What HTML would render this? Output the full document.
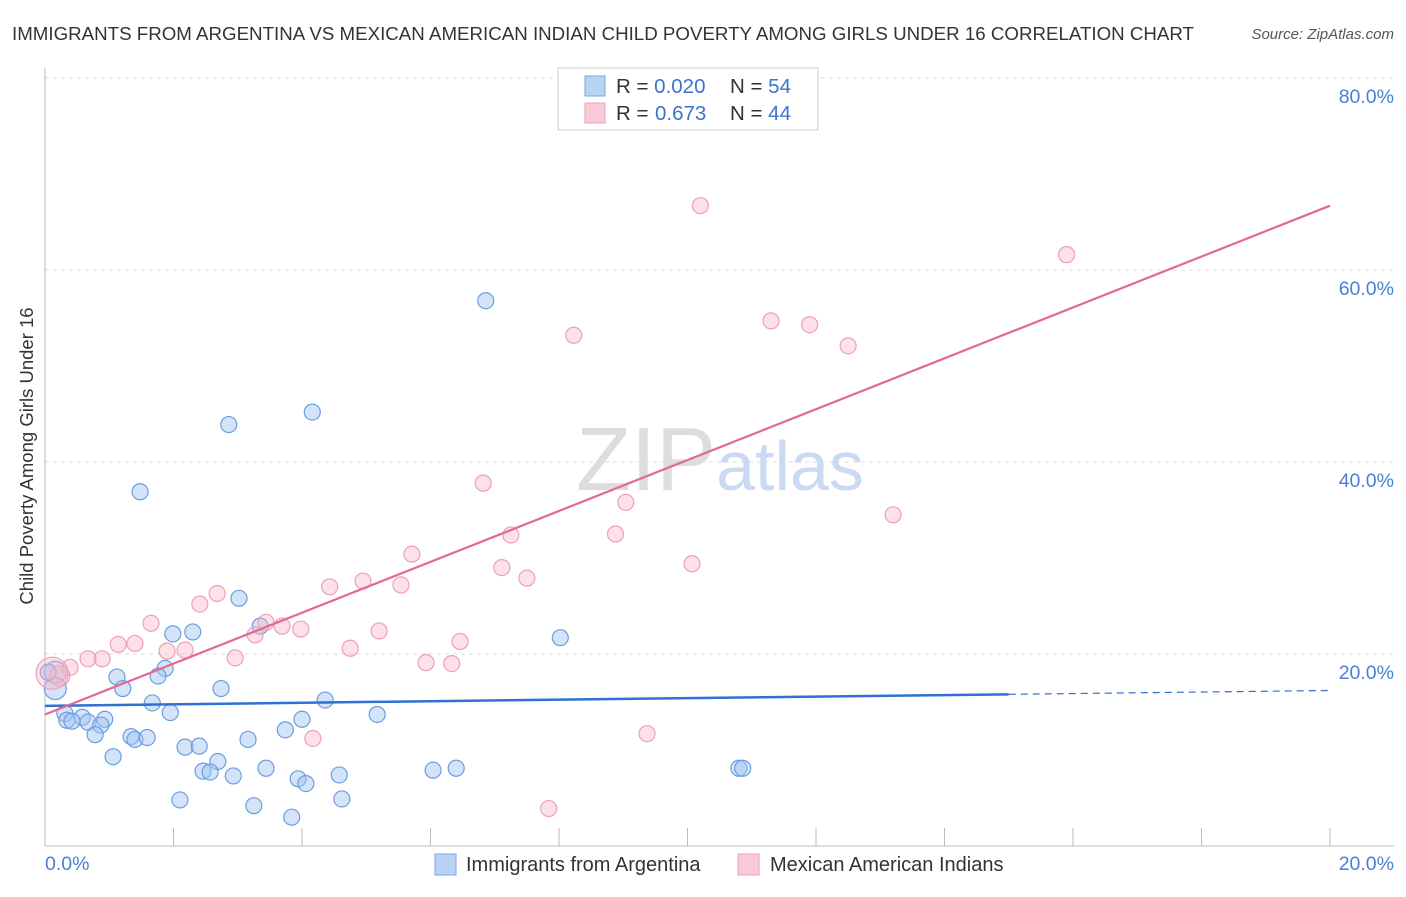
<!DOCTYPE html>
<html><head><meta charset="utf-8"><style>
body{margin:0;background:#fff;font-family:"Liberation Sans",sans-serif;}
svg text{font-family:"Liberation Sans",sans-serif;}
</style></head><body>
<svg width="1406" height="892" xmlns="http://www.w3.org/2000/svg">
<text x="12" y="40" font-size="18" fill="#333" textLength="1182" lengthAdjust="spacingAndGlyphs">IMMIGRANTS FROM ARGENTINA VS MEXICAN AMERICAN INDIAN CHILD POVERTY AMONG GIRLS UNDER 16 CORRELATION CHART</text>
<text x="1394" y="39" font-size="15" fill="#555" font-style="italic" text-anchor="end">Source: ZipAtlas.com</text>
<text x="33" y="456" font-size="18.5" fill="#333" text-anchor="middle" transform="rotate(-90 33 456)">Child Poverty Among Girls Under 16</text>
<g id="grid"></g>
<g id="yt"></g>
<g id="xt"></g>
<line x1="45" y1="68" x2="45" y2="846" stroke="#bbb"/>
<line x1="45" y1="846" x2="1394" y2="846" stroke="#bbb"/>
<text x="720" y="490" font-size="90" fill="#ddd" text-anchor="middle" font-family="Liberation Serif">ZIP<tspan fill="#c9daf2" font-family="Liberation Sans" font-size="70">atlas</tspan></text>
<g id="pts"></g>
<g id="lines"></g>
<text x="45" y="870" font-size="19.5" fill="#4a7fd4">0.0%</text>
<text x="1394" y="870" font-size="19.5" fill="#4a7fd4" text-anchor="end">20.0%</text>
<g>
<rect x="435" y="854" width="21" height="21" fill="#b9d3f5" stroke="#7aa5e6"/>
<text x="466" y="871" font-size="20" fill="#333">Immigrants from Argentina</text>
<rect x="738" y="854" width="21" height="21" fill="#fbcad8" stroke="#eba0b6"/>
<text x="770" y="871" font-size="20" fill="#333">Mexican American Indians</text>
</g>
<g>
<rect x="558" y="68" width="260" height="62" fill="#fff" stroke="#ccc"/>
<rect x="585" y="76" width="20" height="20" fill="#b9d3f5" stroke="#7aa5e6"/>
<rect x="585" y="103" width="20" height="20" fill="#fbcad8" stroke="#eba0b6"/>
<text x="616" y="93" font-size="20.5" fill="#333">R = <tspan fill="#3b73d0">0.020</tspan><tspan x="730">N = </tspan><tspan fill="#3b73d0">54</tspan></text>
<text x="616" y="120" font-size="20.5" fill="#333">R = <tspan fill="#3b73d0" x="655">0.673</tspan><tspan x="730">N = </tspan><tspan fill="#3b73d0">44</tspan></text>
</g>
</svg>
<script>
const blueX=[6.86,4.16,2.86,1.48,3.02,8.02,2.30,1.99,3.35,1.87,1.12,1.76,1.21,2.74,1.67,4.36,5.17,1.95,4.0,0.93,0.31,0.58,0.34,0.42,0.67,0.87,0.78,3.74,3.16,1.34,1.40,1.59,1.06,2.18,2.40,2.69,2.46,2.57,2.93,3.44,4.58,3.94,4.06,6.04,6.40,10.80,10.86,2.10,3.25,4.62,3.84,0.16,0.16,0.05];
const blueY=[56.8,45.2,43.9,36.9,25.8,21.7,22.3,22.1,22.9,18.5,17.6,17.7,16.4,16.4,14.9,15.2,13.7,13.9,13.2,13.2,13.8,13.4,13.1,13.0,12.9,12.6,11.6,12.1,11.1,11.4,11.1,11.3,9.3,10.3,10.4,8.8,7.8,7.7,7.3,8.1,7.4,7.0,6.5,7.9,8.1,8.1,8.1,4.8,4.2,4.9,3.0,18.1,16.4,18.1];
const pinkX=[10.2,15.9,8.23,11.3,11.9,12.5,6.82,9.04,13.2,7.25,8.88,5.71,7.11,10.07,7.5,4.95,4.43,5.54,2.68,2.41,1.65,3.44,3.69,3.98,3.27,5.2,6.46,4.75,1.14,1.4,1.9,2.18,2.96,0.89,0.67,0.39,5.93,6.33,0.23,4.17,9.37,7.84,0.11,10.52];
const pinkY=[66.7,61.6,53.2,54.7,54.3,52.1,37.8,35.8,34.5,32.4,32.5,30.4,29.0,29.4,27.9,27.6,27.0,27.2,26.3,25.2,23.2,23.3,22.9,22.6,22.0,22.4,21.3,20.6,21.0,21.1,20.3,20.4,19.6,19.5,19.5,18.6,19.1,19.0,17.7,11.2,11.7,3.9,18.0,77.0];
const pinkR=[8,8,8,8,8,8,8,8,8,8,8,8,8,8,8,8,8,8,8,8,8,8,8,8,8,8,8,8,8,8,8,8,8,8,8,8,8,8,10,8,8,8,16,8];
const yTicks=[20,40,60,80];
const xTickVals=[0,2,4,6,8,10,12,14,16,18,20];
const blueLine=[14.6,15.8,16.2];
const pinkLine=[13.7,66.7];
const X=v=>45+v/20*1285, Y=v=>846-v/20*192;
const NS="http://www.w3.org/2000/svg";
function mk(t,a,p){const e=document.createElementNS(NS,t);for(const k in a)e.setAttribute(k,a[k]);p.appendChild(e);return e;}
const grid=document.getElementById('grid'),yt=document.getElementById('yt'),xt=document.getElementById('xt'),pts=document.getElementById('pts'),ln=document.getElementById('lines');
yTicks.forEach(v=>{
 const g=mk('line',{x1:45,x2:1394,y1:Y(v),y2:Y(v),stroke:'#ddd','stroke-dasharray':'4,4'},grid);
 
 
 const t=mk('text',{x:1394,y:Y(v)+25,'font-size':19.5,fill:'#4a7fd4','text-anchor':'end'},yt);t.textContent=v.toFixed(1)+'%';
 
 
});
xTickVals.forEach(v=>{const t=mk('line',{x1:X(v),x2:X(v),y1:828,y2:846,stroke:'#bbb'},xt);
 
 });
blueX.forEach((x,i)=>{const c=mk('circle',{cx:X(x),cy:Y(blueY[i]),r:(i>=51&&i<=52)?11:8,fill:'rgba(160,195,240,0.45)',stroke:'#6c9de0','stroke-width':1.2},pts);
 
 });
pinkX.forEach((x,i)=>{const c=mk('circle',{cx:X(x),cy:Y(pinkY[i]),r:pinkR[i],fill:'rgba(248,180,200,0.4)',stroke:'#ee9fb6','stroke-width':1.2},pts);
 
 });
const b1=mk('line',{x1:X(0),y1:Y(blueLine[0]),x2:X(15),y2:Y(blueLine[1]),stroke:'#2f6fd6','stroke-width':2.5},ln);


const b2=mk('line',{x1:X(15),y1:Y(blueLine[1]),x2:X(20),y2:Y(blueLine[2]),stroke:'#2f6fd6','stroke-width':1.2,'stroke-dasharray':'7,5'},ln);


const p1=mk('line',{x1:X(0),y1:Y(pinkLine[0]),x2:X(20),y2:Y(pinkLine[1]),stroke:'#e5688f','stroke-width':2.2},ln);


</script>
</body></html>
